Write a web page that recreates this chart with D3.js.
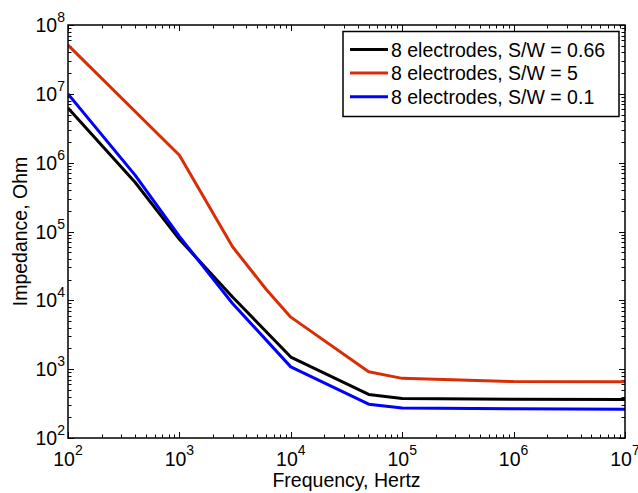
<!DOCTYPE html>
<html><head><meta charset="utf-8">
<script src="https://cdn.jsdelivr.net/npm/d3@7"></script>
<style>body{margin:0;background:#fff}svg{display:block}text{font-family:"Liberation Sans",Arial,sans-serif;fill:#000}</style>
</head><body><svg id="c" width="638" height="493"></svg>
<script>
// Data
const freqBlack = [100, 400, 1000, 3000, 10000, 50000, 1e5, 1e6, 1e7];
const impBlack  = [6.2e6, 5.2e5, 7.7e4, 1.12e4, 1.5e3, 430, 375, 365, 362];
const freqRed   = [100, 1000, 3000, 6000, 10000, 50000, 1e5, 1e6, 1e7];
const impRed    = [5.1e7, 1.28e6, 6e4, 1.45e4, 5.7e3, 920, 735, 660, 656];
const freqBlue  = [100, 400, 1000, 3000, 10000, 50000, 1e5, 1e6, 1e7];
const impBlue   = [1e7, 6.6e5, 8.5e4, 9e3, 1.08e3, 310, 272, 265, 262];
const seriesNames = ["8 electrodes, S/W = 0.66", "8 electrodes, S/W = 5", "8 electrodes, S/W = 0.1"];
const xTickExps = [2, 3, 4, 5, 6, 7];
const yTickExps = [2, 3, 4, 5, 6, 7, 8];
const xLabel = "Frequency, Hertz";
const yLabel = "Impedance, Ohm";

const colors = ["#000000", "#d92e05", "#0000ff"];
const series = [
  {f: freqBlack, v: impBlack},
  {f: freqRed, v: impRed},
  {f: freqBlue, v: impBlue}
];

const L = 68, R = 625, T = 25, B = 438;
const svg = d3.select("#c");
const x = d3.scaleLog().domain([1e2, 1e7]).range([L, R]);
const y = d3.scaleLog().domain([1e2, 1e8]).range([B, T]);

svg.append("defs").append("clipPath").attr("id", "clip")
  .append("rect").attr("x", L).attr("y", T).attr("width", R - L).attr("height", B - T);

// ticks
const g = svg.append("g").attr("stroke", "#000").attr("stroke-width", 1);
const isMajor = v => Math.abs(Math.log10(v) - Math.round(Math.log10(v))) < 1e-9;
x.ticks().forEach(v => {
  const len = isMajor(v) ? 6 : 3.5;
  const px = Math.round(x(v)) + 0.5;
  g.append("line").attr("x1", px).attr("x2", px).attr("y1", B).attr("y2", B - len);
  g.append("line").attr("x1", px).attr("x2", px).attr("y1", T).attr("y2", T + len);
});
y.ticks().forEach(v => {
  const len = isMajor(v) ? 6 : 3.5;
  const py = Math.round(y(v)) + 0.5;
  g.append("line").attr("y1", py).attr("y2", py).attr("x1", L).attr("x2", L + len);
  g.append("line").attr("y1", py).attr("y2", py).attr("x1", R).attr("x2", R - len);
});

// data lines
const line = d3.line().x(d => x(d[0])).y(d => y(d[1]));
const lg = svg.append("g").attr("clip-path", "url(#clip)");
series.forEach((s, i) => {
  lg.append("path").datum(s.f.map((f, j) => [f, s.v[j]]))
    .attr("d", line).attr("fill", "none").attr("stroke", colors[i])
    .attr("stroke-width", 3).attr("stroke-linejoin", "round");
});

// box
svg.append("rect").attr("x", L).attr("y", T).attr("width", R - L).attr("height", B - T)
  .attr("fill", "none").attr("stroke", "#000").attr("stroke-width", 1.5);

// tick labels
xTickExps.forEach(e => {
  const t = svg.append("text").attr("x", x(Math.pow(10, e))).attr("y", 466)
    .attr("text-anchor", "middle").attr("font-size", 19.5);
  t.append("tspan").text("10");
  t.append("tspan").attr("font-size", 14).attr("dy", -11).text(e);
});
yTickExps.forEach(e => {
  const t = svg.append("text").attr("x", L - 3).attr("y", y(Math.pow(10, e)) + 7)
    .attr("text-anchor", "end").attr("font-size", 19.5);
  t.append("tspan").text("10");
  t.append("tspan").attr("font-size", 14).attr("dy", -10).text(e);
});

// axis labels
svg.append("text").attr("x", (L + R) / 2).attr("y", 486.5).attr("text-anchor", "middle")
  .attr("font-size", 19.5).text(xLabel);
svg.append("text").attr("transform", `translate(27,${(T + B) / 2}) rotate(-90)`)
  .attr("text-anchor", "middle").attr("font-size", 19.5).text(yLabel);

// legend
const lgd = svg.append("g");
lgd.append("rect").attr("x", 343).attr("y", 31.5).attr("width", 276).attr("height", 85)
  .attr("fill", "#fff").attr("stroke", "#000").attr("stroke-width", 1.5);
seriesNames.forEach((n, i) => {
  const cy = 49.5 + i * 23.6;
  lgd.append("line").attr("x1", 350).attr("x2", 388).attr("y1", cy).attr("y2", cy)
    .attr("stroke", colors[i]).attr("stroke-width", 3);
  lgd.append("text").attr("x", 391).attr("y", cy + 7.2).attr("font-size", 19.5).text(n);
});
</script></body></html>
